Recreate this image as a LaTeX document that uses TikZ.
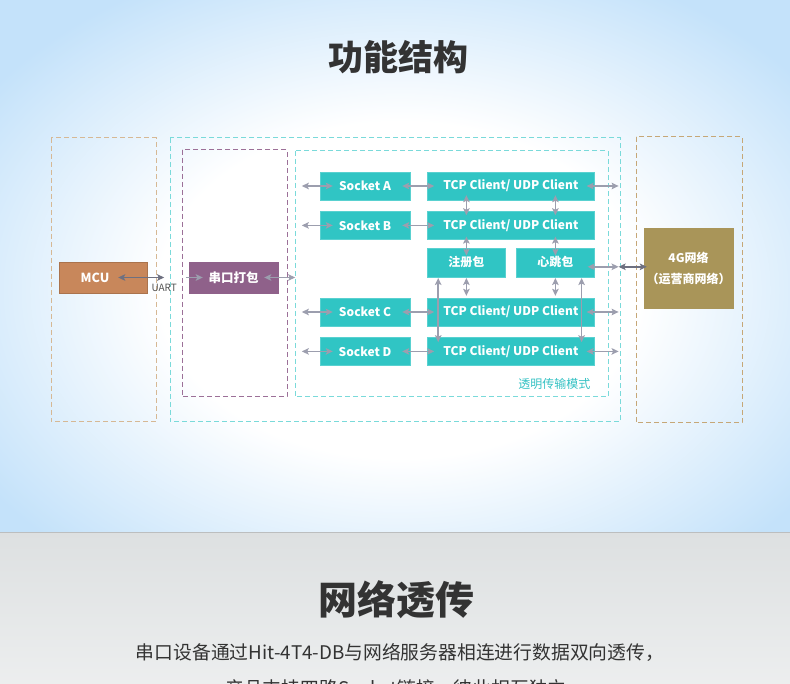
\documentclass[tikz,border=0pt]{standalone}
\usepackage{fontspec}
\setmainfont{Noto Sans CJK SC}
\usetikzlibrary{positioning,arrows.meta}

\definecolor{tealfill}{HTML}{30C5C4}
\definecolor{mcufill}{HTML}{C8875B}
\definecolor{packfill}{HTML}{8F618A}
\definecolor{netfill}{HTML}{A99559}
\definecolor{linkgray}{HTML}{9C9EAE}
\definecolor{linkdark}{HTML}{6E7080}
\definecolor{tanline}{HTML}{D6B894}
\definecolor{goldline}{HTML}{C6A777}
\definecolor{cyanline}{HTML}{7ADADA}
\definecolor{plumline}{HTML}{9C7098}
\definecolor{modecyan}{HTML}{35C2C4}
\definecolor{skyblue}{HTML}{C4E2FA}
\definecolor{mistgray}{HTML}{DDE0E1}
\definecolor{inktext}{HTML}{333333}

\pgfdeclareradialshading{glow}{\pgfpoint{0bp}{0bp}}{color(0bp)=(white); color(12bp)=(white); color(25bp)=(skyblue); color(50bp)=(skyblue)}

\begin{document}
\begin{tikzpicture}[
    x=1pt, y=-1pt,
    node distance=11pt,
    tealbox/.style={rectangle, fill=tealfill, draw=tealfill!80!white, text=white, inner sep=0pt, font=\bfseries\fontsize{12}{14}\selectfont},
    socket/.style={tealbox, minimum width=90pt, minimum height=28pt},
    client/.style={tealbox, minimum width=167pt, minimum height=28pt},
    packet/.style={tealbox, minimum width=78pt, minimum height=29pt},
    colorbox/.style={rectangle, inner sep=0pt, text=white, font=\bfseries\fontsize{12.5}{14}\selectfont, minimum width=89pt, minimum height=31pt},
    frame/.style={dash pattern=on 5pt off 3pt, line width=1pt},
    link/.style={{Stealth[length=7pt,width=6.5pt,inset=1.5pt]}-{Stealth[length=7pt,width=6.5pt,inset=1.5pt]}, line width=1.5pt, draw=linkgray},
    linkdk/.style={link, draw=linkdark},
    title/.style={font=\bfseries\fontsize{35}{40}\selectfont, text=inktext}
]

% Background
\useasboundingbox (0,0) rectangle (790,684);
\clip (0,0) rectangle (790,684);
\fill[skyblue] (0,0) rectangle (790,532);
\shade[shading=glow] (400,290) ellipse [x radius=500, y radius=350];
\fill[skyblue] (0,532) rectangle (790,540);
\shade[top color=mistgray, bottom color=mistgray!55!white] (0,532) rectangle (790,684);
\draw[mistgray!85!black, line width=0.6pt] (0,532) -- (790,532);

% Titles
\node[title] (head) at (398,57) {功能结构};
\node[title, font=\bfseries\fontsize{39}{44}\selectfont] (head2) at (396,600) {网络透传};
\node[anchor=base, text=inktext, font=\fontsize{18.8}{22}\selectfont] (intro1) at (400,659) {串口设备通过Hit-4T4-DB与网络服务器相连进行数据双向透传，};
\node[anchor=base, text=inktext, font=\fontsize{18.8}{22}\selectfont] (intro2) at (396,695) {产品支持四路Socket链接，彼此相互独立};

% Dashed frames
\draw[frame, tanline] (51,138) rectangle (156,422);
\draw[frame, cyanline] (170,138) rectangle (620,422);
\draw[frame, plumline] (182,150) rectangle (287,397);
\draw[frame, cyanline] (295,151) rectangle (608,397);
\draw[frame, goldline] (636,137) rectangle (742,423);
\node[anchor=east, text=modecyan, font=\fontsize{12}{14}\selectfont] (mode) at (594,384) {透明传输模式};

% Sockets and clients
\node[socket] (sa) at (365,186) {Socket A};
\node[socket, below=of sa] (sb) {Socket B};
\node[socket] (sc) at (365,312) {Socket C};
\node[socket, below=of sc] (sd) {Socket D};
\node[client, right=17pt of sa] (ca) {TCP Client/ UDP Client};
\node[client, right=17pt of sb] (cb) {TCP Client/ UDP Client};
\node[client, right=17pt of sc] (cc) {TCP Client/ UDP Client};
\node[client, right=17pt of sd] (cd) {TCP Client/ UDP Client};
\node[packet, below right=8pt and 0pt of cb.south west] (reg) {注册包};
\node[packet, below left=8pt and 0pt of cb.south east] (beat) {心跳包};

% Side blocks
\node[colorbox, fill=mcufill, draw=mcufill!85!black, minimum width=88pt] (mcu) at (103,277.5) {MCU\hspace*{16pt}};
\node[colorbox, fill=packfill, draw=packfill] (pack) at (233.5,277.5) {串口打包};
\node[colorbox, fill=netfill, draw=netfill, minimum height=80pt, align=center, font=\bfseries\fontsize{12}{21}\selectfont] (net) at (688.5,268) {4G网络\\（运营商网络）};

% Free ends
\coordinate[left=18pt of sa] (sa_in);
\coordinate[left=18pt of sb] (sb_in);
\coordinate[left=18pt of sc] (sc_in);
\coordinate[left=18pt of sd] (sd_in);
\coordinate[right=24pt of ca] (ca_out);
\coordinate[right=24pt of cc] (cc_out);
\coordinate[right=24pt of cd] (cd_out);
\coordinate (beat_out) at ([xshift=24pt, yshift=-4.5pt]beat.east);
\coordinate[right=17pt of mcu] (uart_end);
\coordinate[left=3pt of pack] (pack_in);
\coordinate[right=17pt of pack] (pack_out);

% Serial side
\draw[linkdk, shorten <=-29pt] (mcu) -- node[at end, below=3pt, text=inktext!85!white, font=\fontsize{10}{12}\selectfont] (uart) {UART} (uart_end);
\draw[link, -{Stealth[length=7pt,width=6.5pt,inset=1.5pt]}, shorten >=-14pt] (pack_in) -- (pack);
\draw[link, shorten <=-14pt] (pack) -- (pack_out);

% Socket links
\draw[link, shorten >=-13pt] (sa_in) -- (sa.west);
\draw[link, shorten >=-13pt] (sb_in) -- (sb.west);
\draw[link, shorten >=-13pt] (sc_in) -- (sc.west);
\draw[link, shorten >=-13pt] (sd_in) -- (sd.west);
\draw[link, shorten <=-8pt, shorten >=-7pt] (sa) -- (ca);
\draw[link, shorten <=-8pt, shorten >=-7pt] (sb) -- (cb);
\draw[link, shorten <=-8pt, shorten >=-7pt] (sc) -- (cc);
\draw[link, shorten <=-8pt, shorten >=-7pt] (sd) -- (cd);
\draw[link, shorten <=-8pt] (ca) -- (ca_out);
\draw[link, shorten <=-8pt] (cc) -- (cc_out);
\draw[link, shorten <=-8pt] (cd) -- (cd_out);
\draw[link, shorten <=-7pt] (beat_out -| beat.east) -- (beat_out);
\draw[linkdk, shorten >=-3pt] (beat_out) -- (beat_out -| net.west);

% Vertical links
\draw[link, shorten <=-5pt, shorten >=-4pt] (reg.north |- ca.south) -- (reg.north |- cb.north);
\draw[link, shorten <=-5pt, shorten >=-4pt] (beat.north |- ca.south) -- (beat.north |- cb.north);
\draw[link, shorten <=-3pt, shorten >=-8pt] (reg.north |- cb.south) -- (reg.north);
\draw[link, shorten <=-3pt, shorten >=-8pt] (beat.north |- cb.south) -- (beat.north);
\draw[link, shorten <=1pt, shorten >=2pt] (reg.south) -- (reg.south |- cc.north);
\draw[link, shorten <=1pt, shorten >=2pt] (beat.south) -- (beat.south |- cc.north);
\draw[link, shorten <=1pt, shorten >=-5pt] ([xshift=11pt]reg.south west) -- ([xshift=11pt]reg.south west |- cd.north);
\draw[link, shorten <=1pt, shorten >=-5pt] ([xshift=-13pt]beat.south east) -- ([xshift=-13pt]beat.south east |- cd.north);

\end{tikzpicture}
\end{document}
